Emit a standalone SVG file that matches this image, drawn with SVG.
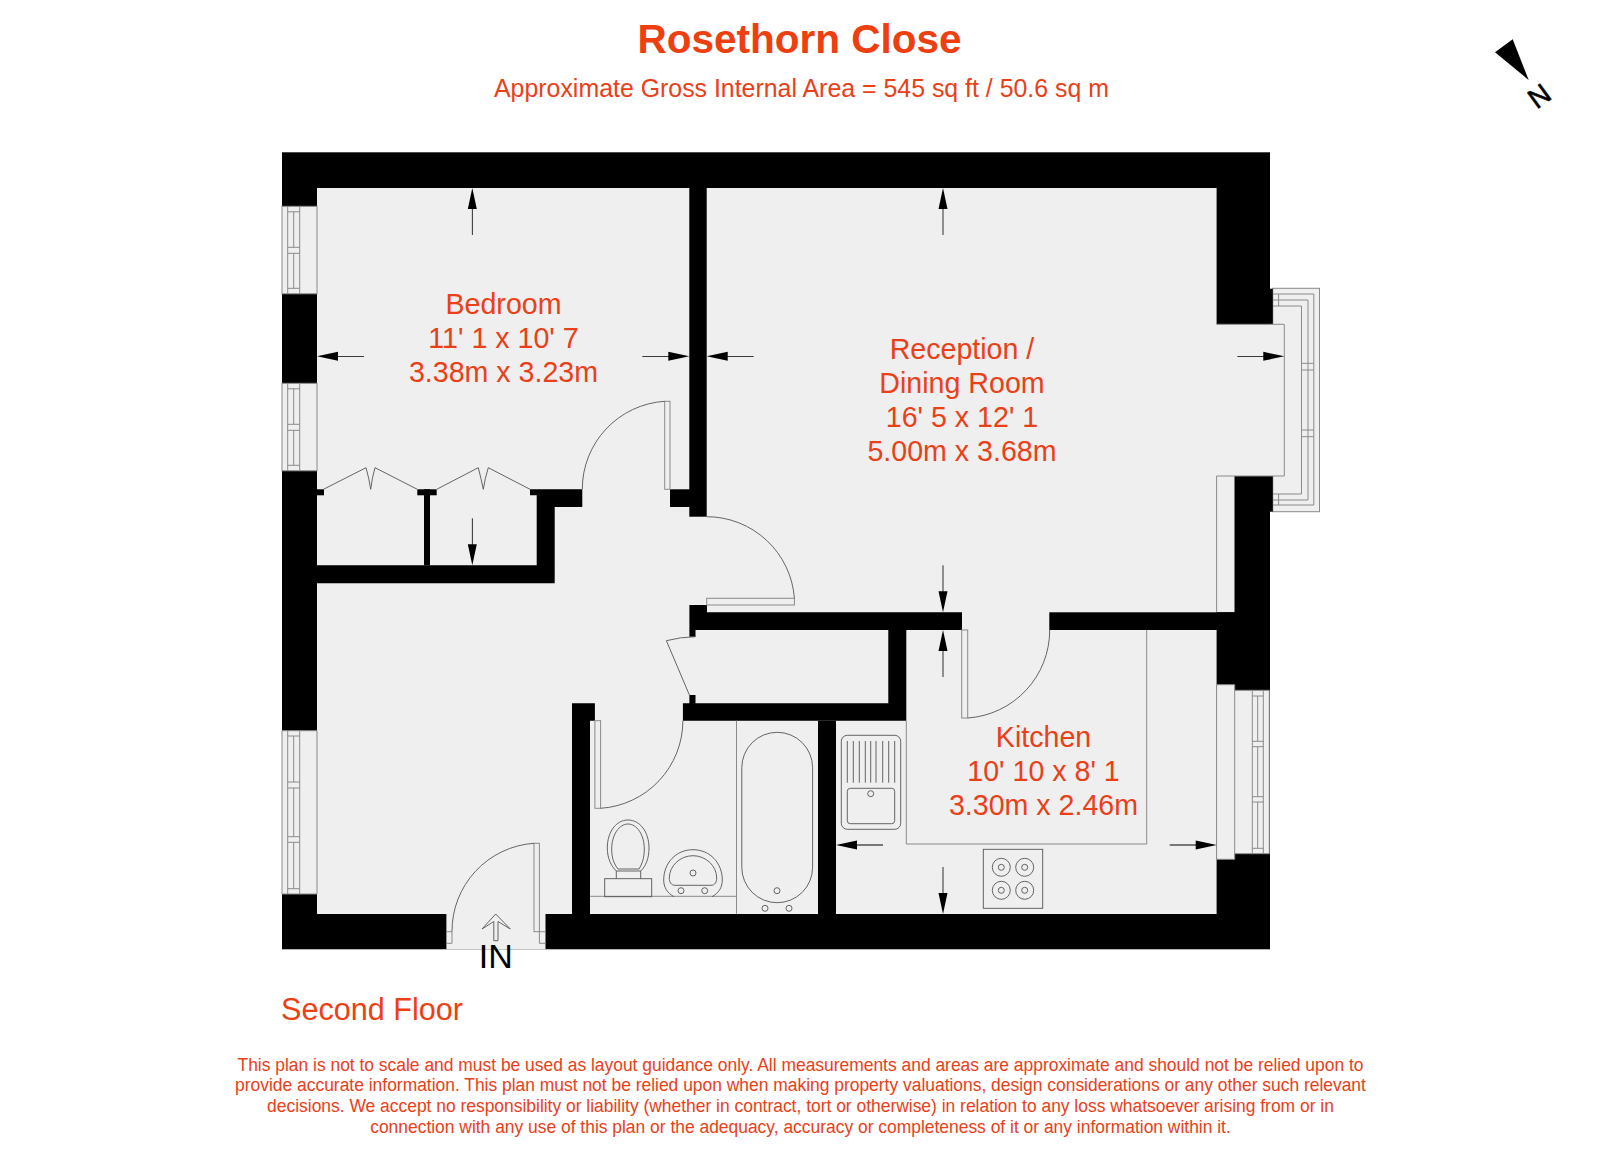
<svg xmlns="http://www.w3.org/2000/svg" width="1600" height="1155" viewBox="0 0 1600 1155">
<style>
.t{font-family:"Liberation Sans",Arial,sans-serif;fill:#ea4018;text-anchor:middle}
.r{font-size:28.6px}
.f{font-size:17.43px}
.w{fill:#000}
.fl{fill:#efefef}
.l{fill:none;stroke:#8a8a8a;stroke-width:1}
.d{fill:none;stroke:#555;stroke-width:.9}
.win{fill:#efefef;stroke:#8a8a8a;stroke-width:1}
</style>
<defs>
<g id="window-v"><rect class="win" x="0" y="0" width="35" height="87.5"/><path class="l" d="M5.7 0V87.5M17.7 0V87.5M11.7 5.5V41M11.7 47V82M5.7 5.5H17.7M5.7 41H17.7M5.7 47H17.7M5.7 82H17.7"/></g>
<path id="arrow" d="M0 0L-4.5 21H-.4V47H.4V21H4.5Z" fill="#000"/>
</defs>
<rect width="1600" height="1155" fill="#fff"/>
<g id="title">
<text class="t" x="799.5" y="53" font-size="40.5" font-weight="700" style="fill:#ee3f10">Rosethorn Close</text>
<text class="t" x="801.5" y="97" font-size="24.9">Approximate Gross Internal Area = 545 sq ft / 50.6 sq m</text>
</g>
<g id="north"><path d="M1495 52.3L1512.7 39.3L1528.7 80Z"/><text x="0" y="0" transform="translate(1539 95.7) rotate(-36)" font-family="'Liberation Sans',Arial,sans-serif" font-size="28" text-anchor="middle" dy="10" stroke="#000" stroke-width=".6">N</text></g>
<g id="plan">
<rect x="1272.8" y="288.3" width="46.7" height="223.4" class="win"/>
<path class="l" d="M1272.8 294H1313.8V505H1272.8M1272.8 300H1308V500H1272.8M1272.8 306H1301.5V494H1272.8M1278.6 294V306M1278.6 494V505M1301.5 363.3H1313.8M1301.5 370H1313.8M1301.5 430H1313.8M1301.5 436.7H1313.8"/>
<rect class="w" x="282" y="152.3" width="988" height="797"/>
<rect class="w" x="1260" y="288.7" width="12.8" height="35.6"/>
<rect class="w" x="1260" y="476" width="12.8" height="35.7"/>
<path class="fl" d="M317 188H1216.6V324.3H1284.3V476H1234.5V612.3H1216.6V914H317Z"/>
<rect class="fl" x="446.4" y="914" width="99.1" height="35.3"/>
<path class="l" d="M1216.6 324.3H1284.3V476H1216.6V612.3"/>
<path class="fl" d="M1216.6 684.7H1234.7V690.3H1269.3V853.7H1234.7V859.3H1216.6Z"/>
<path class="l" d="M1216.6 684.7H1234.7V859.3H1216.6ZM1234.7 690.3H1269.3V853.7H1234.7M1252.3 690.3V853.7M1257.7 696V741.3M1257.7 746.7V796.7M1257.7 802V848.3M1263.3 690.3V853.7M1252.3 696H1263.3M1252.3 741.3H1263.3M1252.3 746.7H1263.3M1252.3 796.7H1263.3M1252.3 802H1263.3M1252.3 848.3H1263.3"/>
<use href="#window-v" x="282" y="206.3"/>
<use href="#window-v" x="282" y="383.3"/>
<rect class="fl" x="282" y="730.7" width="35" height="163.3"/>
<path class="l" d="M282 730.7H317V894H282ZM287.7 730.7V894M299.7 730.7V894M293.7 736V782M293.7 788V836.7M293.7 842.3V888.7M287.7 736H299.7M287.7 782H299.7M287.7 788H299.7M287.7 836.7H299.7M287.7 842.3H299.7M287.7 888.7H299.7"/>
<g id="walls" class="w">
<rect x="689.3" y="188" width="17.4" height="328.7"/>
<rect x="670" y="489.3" width="20" height="17.7"/>
<rect x="317" y="489.3" width="7" height="6"/>
<rect x="417.3" y="489.3" width="19.4" height="6"/>
<rect x="424" y="489.3" width="6" height="76"/>
<path d="M530 489.3H582.3V507H554.7V583.3H317V565.3H536.7V495.3H530Z"/>
<path d="M689.4 605H707V612.3H962V630H906.3V720.7H682.9V703.3H689.4V695H695.5V703.3H888.3V630H695.5V636.7H689.4Z"/>
<rect x="1049.3" y="612.3" width="186" height="17.7"/>
<path d="M572 703.3H594.9V720.7H590V914H572Z"/>
<rect x="818" y="720.7" width="18" height="193.3"/>
</g>
</g>
<g id="doors">
<rect x="664.7" y="401.3" width="5.3" height="88" class="win"/>
<path class="d" d="M664.7 401.3A88 88 0 0 0 582.3 489.3"/>
<path class="d" d="M323.5 489.3L366 467.7Q369 478 370.7 489.3Q372 478 375 467.7L417.3 489.3M436.7 489.3L478.3 467.7Q481 478 483.3 489.3Q485 478 488.3 467.7L530 489.3"/>
<rect x="706.7" y="598.3" width="87.7" height="6.7" class="win"/>
<path class="d" d="M706.7 516.7A88 88 0 0 1 794.4 598.3"/>
<path class="d" d="M695.5 636.7Q680 637 666.4 640.7L689.4 695"/>
<rect x="594.9" y="720.7" width="5.7" height="87.6" class="win"/>
<path class="d" d="M600.6 808.3A88 88 0 0 0 682.9 720.7"/>
<rect x="961.7" y="630" width="6" height="88" class="win"/>
<path class="d" d="M967.7 718A88 88 0 0 0 1049.7 630"/>
<rect x="534" y="843.3" width="5.4" height="88.4" class="win"/>
<path class="l" d="M446.4 931.7H452V943.3H446.4M545.5 931.7H539.4V943.3H545.5"/>
<path class="d" d="M534 843.3A88 88 0 0 0 452 931.7"/>
<path d="M495.7 914L482 929L493.8 921.5V940.7H498V921.5L510.3 929Z" fill="none" stroke="#555" stroke-width=".9"/>
</g>
<g id="fixtures">
<path class="l" d="M736.5 720.7V914M590 896.3H736.5M906.3 720.7V844H1146.7V630"/>
<rect class="d" x="741.8" y="732.3" width="70.8" height="170.4" rx="35.4"/>
<g class="d"><circle cx="777" cy="890.7" r="3"/><circle cx="765" cy="908.3" r="3"/><circle cx="789" cy="908.3" r="3"/>
<path d="M628 820C616 820 607.3 832 607.3 848C607.3 858 611 866 616.3 871H640.7C646 866 649 858 649 848C649 832 640 820 628 820Z"/>
<path d="M628 824C619 824 611.7 835 611.7 849C611.7 858 614 864 618 869H639C642 864 644.3 858 644.3 849C644.3 835 637 824 628 824Z"/>
<path d="M616.3 871V878.7M640.7 871V878.7"/>
<rect x="604.7" y="878.7" width="47" height="18"/>
<path d="M674 896.7C667 893 663.7 887 663.7 880C663.7 863 676 849.7 693 849.7C710 849.7 722.3 863 722.3 880C722.3 887 719 893 712 896.7"/>
<path d="M675 885.3C671 885.3 669.3 882 669.3 878C669.3 866 680 855.7 693 855.7C706 855.7 716.7 866 716.7 878C716.7 882 715 885.3 711 885.3Z"/>
<circle cx="693" cy="873" r="3"/><circle cx="681" cy="890.7" r="3"/><circle cx="704.7" cy="890.7" r="3"/>
<rect x="841.3" y="735.3" width="59.4" height="94" rx="6"/>
<rect x="847.3" y="788.3" width="47.4" height="35.4" rx="3"/>
<circle cx="870.7" cy="793.7" r="3"/>
<path d="M847.3 741V782.7M853.3 741V782.7M859.3 741V782.7M865.3 741V782.7M870.7 741V782.7M876 741V782.7M882.7 741V782.7M888.7 741V782.7M894.7 741V782.7"/>
<rect x="983.3" y="849.3" width="59.4" height="59"/>
<circle cx="1001.3" cy="867.3" r="9"/><circle cx="1001.3" cy="867.3" r="3"/>
<circle cx="1024.7" cy="867.3" r="9"/><circle cx="1024.7" cy="867.3" r="3"/>
<circle cx="1001.3" cy="890.3" r="9"/><circle cx="1001.3" cy="890.3" r="3"/>
<circle cx="1024.7" cy="890.3" r="9"/><circle cx="1024.7" cy="890.3" r="3"/>
</g>
</g>
<g id="connectors">
<use href="#arrow" transform="translate(472.3 188)"/>
<use href="#arrow" transform="translate(472.3 565.3) rotate(180)"/>
<use href="#arrow" transform="translate(317 356.3) rotate(-90)"/>
<use href="#arrow" transform="translate(689.3 356.3) rotate(90)"/>
<use href="#arrow" transform="translate(706.7 356.3) rotate(-90)"/>
<use href="#arrow" transform="translate(943 188)"/>
<use href="#arrow" transform="translate(1284.3 356.3) rotate(90)"/>
<use href="#arrow" transform="translate(943 612.3) rotate(180)"/>
<use href="#arrow" transform="translate(943 630)"/>
<use href="#arrow" transform="translate(836 845) rotate(-90)"/>
<use href="#arrow" transform="translate(1216.7 845) rotate(90)"/>
<use href="#arrow" transform="translate(943 914) rotate(180)"/>
</g>
<g id="bedroom" class="t r"><text x="503.5" y="314.3">Bedroom</text><text x="503.5" y="348.3">11' 1 x 10' 7</text><text x="503.5" y="382.3">3.38m x 3.23m</text></g>
<g id="reception" class="t r"><text x="962" y="358.5">Reception /</text><text x="962" y="392.5">Dining Room</text><text x="962" y="426.5">16' 5 x 12' 1</text><text x="962" y="461">5.00m x 3.68m</text></g>
<g id="kitchen" class="t r"><text x="1043.5" y="746.5">Kitchen</text><text x="1043.5" y="781">10' 10 x 8' 1</text><text x="1043.5" y="815">3.30m x 2.46m</text></g>
<text id="in" x="495.7" y="968" font-family="'Liberation Sans',Arial,sans-serif" font-size="34" text-anchor="middle" fill="#000">IN</text>
<text id="floor" x="281" y="1020" font-family="'Liberation Sans',Arial,sans-serif" font-size="30.6" fill="#ee3f14">Second Floor</text>
<g id="disclaimer" class="t f">
<text x="800.5" y="1070.5">This plan is not to scale and must be used as layout guidance only. All measurements and areas are approximate and should not be relied upon to</text>
<text x="800.5" y="1091">provide accurate information. This plan must not be relied upon when making property valuations, design considerations or any other such relevant</text>
<text x="800.5" y="1112">decisions. We accept no responsibility or liability (whether in contract, tort or otherwise) in relation to any loss whatsoever arising from or in</text>
<text x="800.5" y="1133">connection with any use of this plan or the adequacy, accuracy or completeness of it or any information within it.</text>
</g>
</svg>
